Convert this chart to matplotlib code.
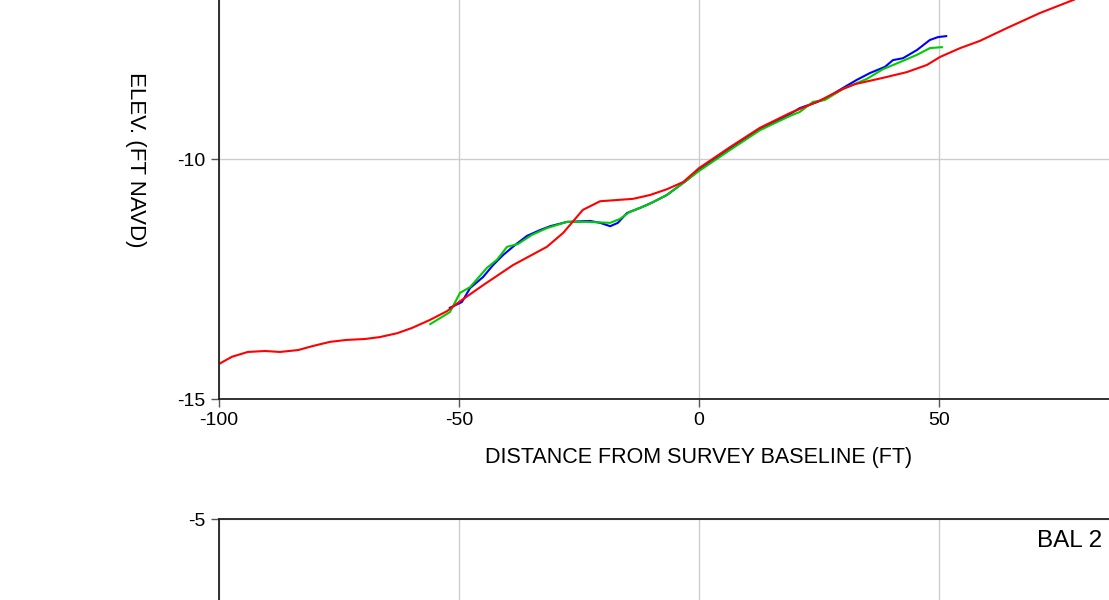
import matplotlib
matplotlib.use("Agg")
import matplotlib.pyplot as plt

plt.rcParams['font.family'] = ['Liberation Sans', 'DejaVu Sans']
plt.rcParams['axes.unicode_minus'] = False

# profile data (distance ft, elevation ft NAVD)
red_x = [-100, -97.3, -94, -90.4, -87.3, -83.5, -80.6, -76.9, -73.5, -69.6, -66.5, -62.9,
         -59.8, -56, -52.5, -50, -45, -38.75, -31.7, -28.3, -24.2, -20.6, -13.75, -10.2,
         -6.7, -3.3, 0, 6.5, 12.7, 19, 24.6, 30, 32.5, 38.3, 43.3, 47.5, 50.2, 54.4, 58.5,
         64.2, 71, 77.9, 85, 92, 100]
red_y = [-14.27, -14.12, -14.02, -14.0, -14.02, -13.98, -13.9, -13.81, -13.77, -13.75,
         -13.71, -13.63, -13.52, -13.35, -13.17, -12.98, -12.63, -12.21, -11.83, -11.54,
         -11.06, -10.88, -10.83, -10.75, -10.63, -10.48, -10.19, -9.75, -9.35, -9.04,
         -8.81, -8.54, -8.44, -8.31, -8.19, -8.04, -7.875, -7.69, -7.54, -7.27, -6.96,
         -6.69, -6.4, -6.1, -5.8]

blue_x = [-51.9, -49.4, -47.7, -45, -42.9, -40.8, -38.3, -35.8, -33.1, -31, -27.5, -22.7,
          -20.6, -18.5, -16.9, -15, -12.3, -9.6, -6.7, -2.5, 0, 6.5, 12.7, 19, 21, 25.8,
          30, 32.9, 35.6, 38.75, 40.4, 42.5, 45.4, 48.1, 49.8, 51.5]
blue_y = [-13.10, -12.98, -12.69, -12.46, -12.21, -12.0, -11.79, -11.60, -11.48, -11.40,
          -11.31, -11.29, -11.33, -11.40, -11.33, -11.125, -11.02, -10.90, -10.75, -10.44,
          -10.23, -9.79, -9.375, -9.06, -8.94, -8.77, -8.52, -8.35, -8.21, -8.08, -7.94,
          -7.90, -7.73, -7.52, -7.46, -7.44]

green_x = [-56, -51.9, -49.8, -47.7, -44.2, -42.1, -40, -37.7, -34.8, -31.7, -27.5, -23.3,
           -18.5, -16.5, -14.4, -10.8, -6.7, -2.5, 0, 6.5, 12.7, 19, 21, 23.75, 26.25, 30,
           35, 38.3, 41.9, 45.4, 48.1, 50.6]
green_y = [-13.44, -13.19, -12.79, -12.67, -12.27, -12.10, -11.83, -11.77, -11.58, -11.44,
           -11.31, -11.31, -11.33, -11.25, -11.10, -10.96, -10.75, -10.44, -10.25, -9.81,
           -9.4, -9.1, -9.02, -8.81, -8.77, -8.54, -8.33, -8.13, -7.98, -7.83, -7.69, -7.67]

xticks = [-100, -50, 0, 50]

fig = plt.figure(figsize=(11.09, 6.0), dpi=100)

def style(ax, yticks):
    ax.set_xlim(-100, 100)
    ax.set_ylim(-15, -5)
    ax.set_xticks(xticks)
    ax.set_yticks(yticks)
    ax.grid(True, color='#cccccc', linewidth=1.0)
    ax.set_axisbelow(True)
    for s in ax.spines.values():
        s.set_color('#222222')
        s.set_linewidth(1.3)
    ax.tick_params(direction='out', length=6, width=1, colors='#555555',
                   labelcolor='black', labelsize=14)

# upper panel (axes larger than the figure, so it is cropped like the reference)
ax1 = fig.add_axes([219 / 1109, 1 - 399 / 600, 960 / 1109, 480 / 600])
style(ax1, [-15, -10])
ax1.plot(blue_x, blue_y, color='#0000ff', lw=1.5)
ax1.plot(green_x, green_y, color='#00cc00', lw=1.5)
ax1.plot(red_x, red_y, color='#ff0000', lw=1.5)

fig.text(699 / 1109, 1 - 457 / 600, 'DISTANCE FROM SURVEY BASELINE (FT)',
         fontsize=15.5, ha='center', va='center')
fig.text(135 / 1109, 1 - 160 / 600, 'ELEV. (FT NAVD)', fontsize=16,
         rotation=270, ha='center', va='center')

# lower panel, only its top edge shows
ax2 = fig.add_axes([219 / 1109, 1 - 999 / 600, 960 / 1109, 480 / 600])
style(ax2, [-5])
ax2.tick_params(labelbottom=False)
ax2.text(70.4, -5.22, 'BAL 2', fontsize=17.5, ha='left', va='top')

fig.savefig('out.png', dpi=100)
